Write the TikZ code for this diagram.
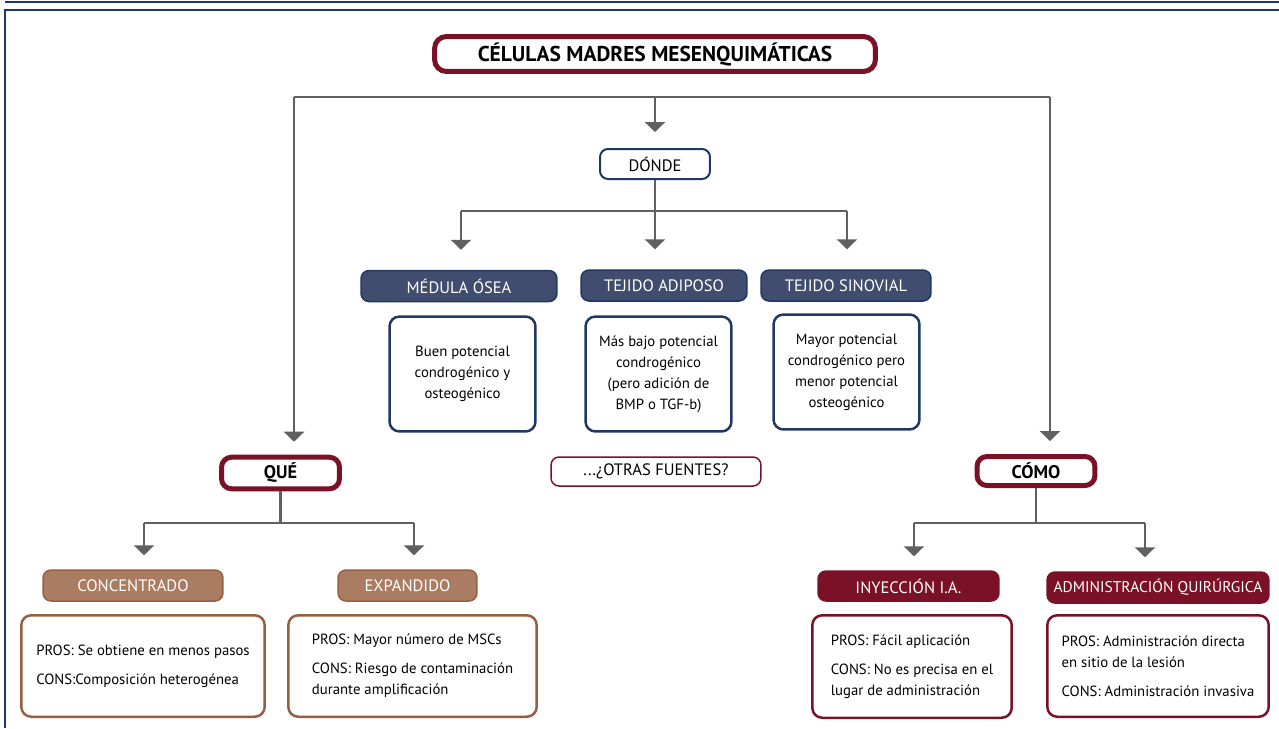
\documentclass[tikz,border=0pt]{standalone}
\usepackage{fontspec}
\setmainfont{PT Sans}
\usetikzlibrary{arrows.meta}

\definecolor{navyline}{RGB}{31,56,100}
\definecolor{navyfill}{RGB}{64,77,110}
\definecolor{darkred}{RGB}{123,17,38}
\definecolor{brownfill}{RGB}{170,124,98}
\definecolor{brownline}{RGB}{150,95,65}
\definecolor{linegray}{RGB}{96,96,96}

\newcommand{\bodysize}{\fontsize{8.4pt}{12pt}\selectfont}
\newcommand{\headsize}{\fontsize{9.4pt}{11pt}\selectfont}
\newcommand{\titlesize}{\fontsize{12.2pt}{14pt}\selectfont\bfseries}
\newcommand{\asksize}{\fontsize{10.4pt}{12pt}\selectfont\bfseries}

\begin{document}
\begin{tikzpicture}[x=0.02cm, y=-0.02cm,
    titlebox/.style={draw=darkred, line width=0.1cm, rounded corners=0.24cm, fill=white, font=\titlesize},
    askbox/.style={draw=darkred, line width=0.1cm, rounded corners=0.2cm, font=\asksize,
        minimum width=2.36cm, minimum height=0.58cm},
    wherebox/.style={draw=navyline, line width=0.04cm, rounded corners=0.16cm, font=\headsize},
    head/.style={line width=0.03cm, rounded corners=0.16cm, text=white, font=\headsize,
        minimum height=0.62cm, inner xsep=2pt},
    navyhead/.style={head, fill=navyfill, draw=navyline},
    brownhead/.style={head, fill=brownfill, draw=brownline},
    redhead/.style={head, fill=darkred, draw=darkred},
    info/.style={line width=0.05cm, rounded corners=0.2cm, font=\bodysize},
    navyinfo/.style={info, draw=navyline, align=center, minimum width=2.92cm, minimum height=2.3cm},
    prosbox/.style={info, align=left, minimum height=2.03cm},
    link/.style={draw=linegray, line width=0.05cm},
    arrow/.style={link, -{Triangle[width=0.4cm,length=0.2cm]}, shorten >=0.28cm},
    frameline/.style={draw=navyline, line width=0.05cm}]

    \useasboundingbox (0,0) rectangle (1279,728);

    % FRAME
    \draw[frameline] (5,728) -- (5,10) -- (1279,10);
    \draw[frameline] (5,2) -- (1279,2);

    % TITLE
    \node[titlebox, minimum width=8.82cm, minimum height=0.66cm] (cmm) at (655,54) {CÉLULAS MADRES MESENQUIMÁTICAS};

    % QUESTIONS
    \node[wherebox, minimum width=2.2cm, minimum height=0.6cm] (donde) at (655,164) {DÓNDE};
    \node[askbox] (que) at (280.5,473) {QUÉ};
    \node[askbox] (como) at (1036,471) {CÓMO};

    % SOURCES
    \node[navyhead, minimum width=3.92cm] (medula) at (459,286) {MÉDULA ÓSEA};
    \node[navyhead, minimum width=3.32cm] (adiposo) at (664,285.5) {TEJIDO ADIPOSO};
    \node[navyhead, minimum width=3.4cm] (sinovial) at (846,285.5) {TEJIDO SINOVIAL};

    \node[navyinfo] (medulatxt) at (462.5,374) {Buen potencial\\condrogénico y\\osteogénico};
    \node[navyinfo] (adiposotxt) at (658.5,374) {Más bajo potencial\\condrogénico\\(pero adición de\\BMP o TGF-b)};
    \node[navyinfo] (sinovialtxt) at (846.5,372) {Mayor potencial\\condrogénico pero\\menor potencial\\osteogénico};

    \node[draw=darkred, line width=0.03cm, rounded corners=0.16cm, font=\headsize,
        minimum width=4.2cm, minimum height=0.58cm] (otras) at (656,471.5) {...¿OTRAS FUENTES?};

    % WHAT
    \node[brownhead, minimum width=3.6cm] (conc) at (133,585.5) {CONCENTRADO};
    \node[brownhead, minimum width=2.78cm] (exp) at (407.5,585.5) {EXPANDIDO};

    \node[prosbox, draw=brownline, minimum width=4.87cm] (conctxt) at (143,666)
        {PROS: Se obtiene en menos pasos\\[0.16cm]CONS:Composición heterogénea};
    \node[prosbox, draw=brownline, minimum width=4.97cm] (exptxt) at (412.5,666)
        {PROS: Mayor número de MSCs\\[0.16cm]CONS: Riesgo de contaminación\\durante amplificación};

    % HOW
    \node[redhead, minimum width=3.62cm, minimum height=0.6cm] (iny) at (908.5,586) {INYECCIÓN I.A.};
    \node[redhead, minimum width=4.44cm, font=\fontsize{8.85pt}{11pt}\selectfont] (adm) at (1158,587.5) {ADMINISTRACIÓN QUIRÚRGICA};

    \node[prosbox, draw=darkred, minimum width=3.99cm, minimum height=2.05cm] (inytxt) at (912,666.5)
        {PROS: Fácil aplicación\\[0.16cm]CONS: No es precisa en el\\lugar de administración};
    \node[prosbox, draw=darkred, minimum width=4.43cm] (admtxt) at (1158,666)
        {PROS: Administración directa\\en sitio de la lesión\\[0.16cm]CONS: Administración invasiva};

    % CONNECTORS
    \coordinate (topL) at (294,97);
    \coordinate (topR) at (1050,97);
    \coordinate (dondeL) at (461,211);
    \coordinate (dondeR) at (847,211);
    \coordinate (queL) at (144,523);
    \coordinate (queR) at (414,523);
    \coordinate (comoL) at (914,523);
    \coordinate (comoR) at (1145,523);

    \draw[link] (topL) -- (topR);
    \draw[arrow, shorten >=0.32cm] (donde |- topL) -- (donde);
    \draw[arrow, shorten >=0.26cm] (topL) -- (topL |- que.north);
    \draw[arrow, shorten >=0.26cm] (topR) -- (topR |- como.north);

    \draw[link] (donde) -- (donde |- dondeL);
    \draw[link] (dondeL) -- (dondeR);
    \draw[arrow, shorten >=0.4cm] (dondeL) -- (dondeL |- medula.north);
    \draw[arrow, shorten >=0.4cm] (donde |- dondeL) -- (donde |- adiposo.north);
    \draw[arrow, shorten >=0.4cm] (dondeR) -- (dondeR |- sinovial.north);

    \draw[link] (que) -- (que |- queL);
    \draw[link] (queL) -- (queR);
    \draw[arrow] (queL) -- (queL |- conc.north);
    \draw[arrow] (queR) -- (queR |- exp.north);

    \draw[link] (como) -- (como |- comoL);
    \draw[link] (comoL) -- (comoR);
    \draw[arrow] (comoL) -- (comoL |- iny.north);
    \draw[arrow] (comoR) -- (comoR |- adm.north);

\end{tikzpicture}
\end{document}
